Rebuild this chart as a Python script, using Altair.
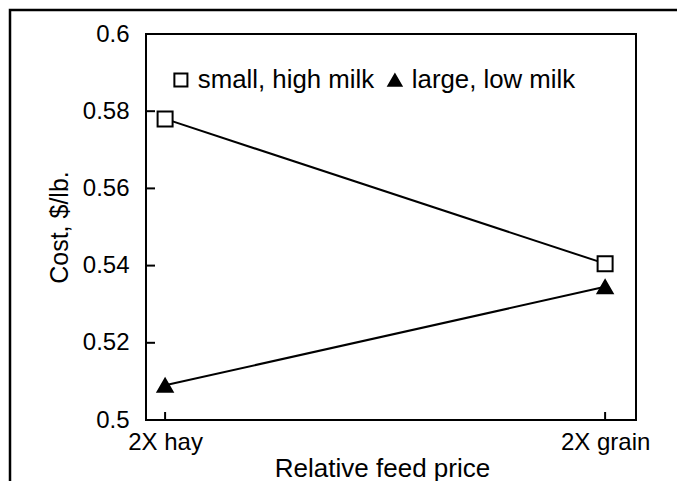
import altair as alt
import pandas as pd

feed = ["2X hay", "2X grain"]
feed_pos = [0, 1]
series_names = ["small, high milk", "large, low milk"]
small_high = [0.578, 0.5405]
large_low = [0.509, 0.5345]
y_values = [0.5, 0.52, 0.54, 0.56, 0.58, 0.6]
y_inner_ticks = [0.52, 0.54, 0.56, 0.58]

rows = []
for name, vals in zip(series_names, [small_high, large_low]):
    for f, p, v in zip(feed, feed_pos, vals):
        rows.append({"series": name, "feed": f, "pos": p, "cost": v})
df = pd.DataFrame(rows)

FONT = "Liberation Sans"
xscale = alt.Scale(domain=[-0.0434, 1.0702], nice=False, zero=False)
yscale = alt.Scale(domain=[0.5, 0.6], nice=False, zero=False)

label_expr = " : ".join(
    [f"datum.value == {p} ? '{f}'" for p, f in zip(feed_pos[:-1], feed[:-1])]
    + [f"'{feed[-1]}'"]
)

x_axis = alt.Axis(values=feed_pos, labelExpr=label_expr, ticks=False, domain=False, grid=False,
                  labelFontSize=24, labelFont=FONT, labelColor="black", labelPadding=10,
                  title="Relative feed price", titleFontSize=26, titleFont=FONT,
                  titleFontWeight="normal", titleColor="black",
                  titleX=236, titleY=56, titleBaseline="alphabetic", titleAlign="center")
y_axis = alt.Axis(values=y_values, format="~g", ticks=False, domain=False, grid=False,
                  labelFontSize=24, labelFont=FONT, labelColor="black", labelPadding=17,
                  title="Cost, $/lb.", titleFontSize=25, titleFont=FONT,
                  titleFontWeight="normal", titleColor="black", titlePadding=10)

base = alt.Chart(df)

lines = base.mark_line(color="black", strokeWidth=2).encode(
    x=alt.X("pos:Q", scale=xscale, axis=x_axis),
    y=alt.Y("cost:Q", scale=yscale, axis=y_axis),
    detail="series:N",
)

legend = alt.Legend(title=None, orient="none", legendX=22, legendY=33, direction="horizontal",
                    labelFontSize=25.8, labelFont=FONT, labelColor="black", labelLimit=400,
                    symbolSize=170, symbolStrokeColor="black", symbolStrokeWidth=2,
                    labelOffset=4, columnPadding=7)

points = base.mark_point(stroke="black", strokeWidth=2, size=225, opacity=1, fillOpacity=1).encode(
    x=alt.X("pos:Q", scale=xscale, axis=x_axis),
    y=alt.Y("cost:Q", scale=yscale, axis=y_axis),
    shape=alt.Shape("series:N", scale=alt.Scale(domain=series_names, range=["square", "triangle-up"]),
                    legend=legend),
    fill=alt.Fill("series:N", scale=alt.Scale(domain=series_names, range=["white", "black"]),
                  legend=legend),
    stroke=alt.Stroke("series:N", scale=alt.Scale(domain=series_names, range=["black", "black"]),
                      legend=legend),
)

yticks = alt.Chart(pd.DataFrame({"cost": y_inner_ticks})).mark_rule(color="black", strokeWidth=2).encode(
    y=alt.Y("cost:Q", scale=yscale, axis=y_axis),
    x=alt.value(0),
    x2=alt.value(9),
)

xticks = alt.Chart(pd.DataFrame({"pos": feed_pos})).mark_rule(color="black", strokeWidth=2).encode(
    x=alt.X("pos:Q", scale=xscale, axis=x_axis),
    y=alt.value(386),
    y2=alt.value(378),
)

frame = alt.Chart(pd.DataFrame({"a": [0]})).mark_rect(fill="transparent", stroke="black", strokeWidth=2.5).encode(
    x=alt.value(-136),
    x2=alt.value(600),
    y=alt.value(-24),
    y2=alt.value(500),
)

chart = alt.layer(lines, yticks, xticks, points, frame).properties(
    width=490, height=386,
    autosize=alt.AutoSizeParams(type="none"),
    padding={"left": 138, "top": 26, "right": 41, "bottom": 61},
).configure_view(stroke="black", strokeWidth=2)

chart.save("out.html", embed_options={"renderer": "svg", "actions": False})
